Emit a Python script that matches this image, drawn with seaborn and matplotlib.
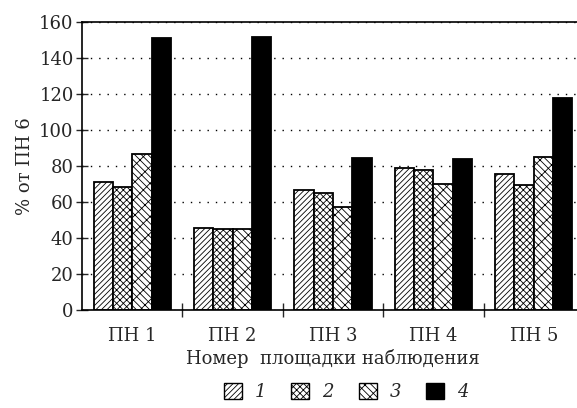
import numpy as np
import pandas as pd
import matplotlib
matplotlib.use("Agg")
import matplotlib.pyplot as plt
import seaborn as sns
from matplotlib.patches import Patch

# data
sites = ["ПН 1", "ПН 2", "ПН 3", "ПН 4", "ПН 5"]
series = ["1", "2", "3", "4"]
s1 = [71.3, 45.7, 66.8, 78.7, 75.6]
s2 = [68.3, 45.0, 65.0, 77.9, 69.4]
s3 = [86.5, 45.0, 57.4, 70.0, 85.2]
s4 = [151.1, 151.5, 84.3, 84.1, 117.6]
y_ticks = [0, 20, 40, 60, 80, 100, 120, 140, 160]

sns.set_style("white")
plt.rcParams["font.family"] = ["DejaVu Serif"]
plt.rcParams["hatch.linewidth"] = 0.6

# long format for seaborn
rows = []
for name, vals in zip(series, [s1, s2, s3, s4]):
    for site, v in zip(sites, vals):
        rows.append({"site": site, "series": name, "value": v})
df = pd.DataFrame(rows)

fig = plt.figure(figsize=(5.77, 4.08), dpi=100)
ax = fig.add_axes([82 / 577, 98 / 408, 502 / 577, 288 / 408])

ax.set_axisbelow(True)
ax.yaxis.grid(True, color="black", linestyle=(0, (1, 5)), linewidth=1.0)

colors = ["white", "white", "white", "black"]
sns.barplot(data=df, x="site", y="value", hue="series", order=sites,
            hue_order=series, width=0.77, gap=0, ax=ax, legend=False,
            palette=colors, edgecolor="black", linewidth=1.3, saturation=1)

hatches = ["//////", "xxxxx", "xx\\\\\\", None]
for cont, h in zip(ax.containers, hatches):
    for bar in cont:
        if h:
            bar.set_hatch(h)

ax.set_ylim(0, 160)
ax.set_xlim(-0.5, 4.5)
ax.set_yticks(y_ticks)
ax.set_xticks(range(len(sites)))
ax.set_xticklabels(sites)
ax.set_xticks(np.arange(0.5, 4.5, 1.0), minor=True)
ax.tick_params(axis="y", which="major", direction="inout", length=8,
               width=1.0, labelsize=13, pad=2, left=True)
ax.tick_params(axis="x", which="major", length=0, labelsize=13, pad=12)
ax.tick_params(axis="x", which="minor", direction="inout", length=10,
               width=1.0, bottom=True)
for sp in ax.spines.values():
    sp.set_linewidth(1.2)
    sp.set_color("black")

ax.set_xlabel("Номер  площадки наблюдения", fontsize=13, labelpad=3)
ax.set_ylabel("% от ПН 6", fontsize=13, labelpad=4)

# legend with hatched squares
handles = []
for h, c in zip(hatches, colors):
    handles.append(Patch(facecolor=c, edgecolor="black", hatch=h, linewidth=1.0))
fig.legend(handles, series, loc="center", bbox_to_anchor=(346 / 577, 16 / 408),
           ncol=4, frameon=False, handlelength=1.0, handleheight=1.0,
           handletextpad=0.7, columnspacing=1.4,
           prop={"style": "italic", "size": 13, "family": "DejaVu Serif"})

fig.savefig("out.png", dpi=100)
